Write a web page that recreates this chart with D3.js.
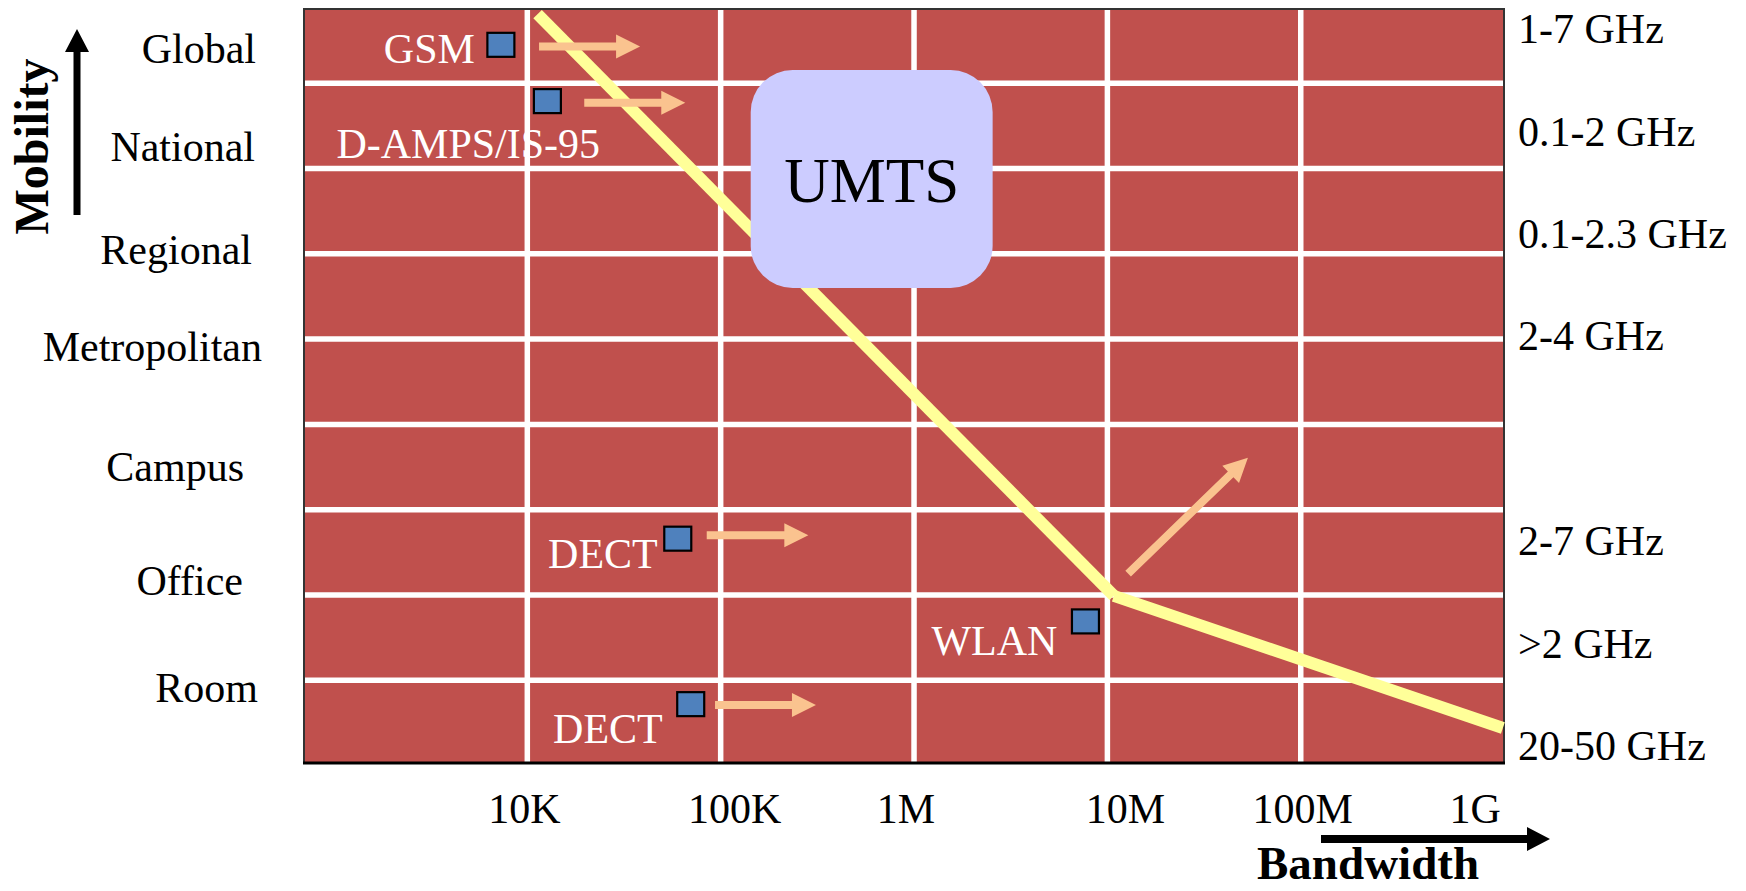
<!DOCTYPE html>
<html>
<head>
<meta charset="utf-8">
<title>Mobility vs. bandwidth of wireless systems</title>
<script src="https://cdn.jsdelivr.net/npm/d3@7"></script>
<style>
  html, body { margin: 0; padding: 0; background: #ffffff; }
  svg { display: block; }
  text { font-family: "Liberation Serif", "Times New Roman", serif; }
</style>
</head>
<body>
<svg id="chart" width="1746" height="891"></svg>
<script>
// ---- data ---------------------------------------------------------------
// bandwidth axis (bit/s, logarithmic)
const bandwidthTicks  = [1e4, 1e5, 1e6, 1e7, 1e8, 1e9];
const bandwidthLabels = ["10K", "100K", "1M", "10M", "100M", "1G"];
const gridBandwidths  = [1e4, 1e5, 1e6, 1e7, 1e8];

// mobility rows (row units, 0 = most mobile at the top)
const rowBoundaries   = [1, 2, 3, 4, 5, 6, 7, 8];
const mobilityClasses = ["Global", "National", "Regional", "Metropolitan", "Campus", "Office", "Room"];
const mobilityRow     = [0.59, 1.74, 2.95, 4.08, 5.49, 6.83, 8.08];

// spectrum used at each mobility level
const frequencyBands  = ["1-7 GHz", "0.1-2 GHz", "0.1-2.3 GHz", "2-4 GHz", "2-7 GHz", ">2 GHz", "20-50 GHz"];
const frequencyRow    = [0.36, 1.56, 2.76, 3.96, 6.36, 7.57, 8.76];

// existing systems
const systems         = ["GSM", "D-AMPS/IS-95", "DECT", "DECT", "WLAN"];
const systemBandwidth = [7.3e3, 1.27e4, 6.0e4, 7.0e4, 7.7e6];
const systemRow       = [0.55, 1.21, 6.34, 8.28, 7.31];

// evolution of each system (arrow start -> end)
const trendFromBandwidth = [1.15e4, 1.97e4, 8.47e4, 9.35e4, 1.28e7];
const trendFromRow       = [0.57, 1.23, 6.30, 8.29, 6.75];
const trendToBandwidth   = [3.83e4, 6.56e4, 2.84e5, 3.11e5, 5.33e7];
const trendToRow         = [0.57, 1.23, 6.30, 8.29, 5.39];

// limit of achievable bandwidth per mobility level
const limitBandwidth = [1.13e4, 1.08e7, 1.11e9];
const limitRow       = [0.19, 7.01, 8.56];

// UMTS coverage
const umtsLabel     = "UMTS";
const umtsBandwidth = [1.43e5, 2.55e6];
const umtsRow       = [0.845, 3.40];

// ---- layout -------------------------------------------------------------
const frame = { left: 304, right: 1504, top: 9, bottom: 763 };
const colors = {
  field: "#C0504D", grid: "#ffffff", limit: "#FFFF99", trend: "#FAC38F",
  system: "#4F81BD", umts: "#CCCCFF", ink: "#000000"
};
const labelSize = 42;
const tickNudge = [-3, 14, -8, 18, 2, -19];
const mobilityNudge = [1, 0, -3, 7, -11, -12, 3];
const systemLabelOffset = [
  { dx: -26, dy: 18, anchor: "end" },
  { dx: -211, dy: 57, anchor: "start" },
  { dx: -20, dy: 29, anchor: "end" },
  { dx: -28, dy: 39, anchor: "end" },
  { dx: -28, dy: 34, anchor: "end" }
];

const svg = d3.select("#chart");

const x = d3.scaleLog().domain([700, 1.125e9]).range([frame.left, frame.right]);
const y = d3.scaleLinear().domain([0.13, 8.97]).range([frame.top, frame.bottom]);

// block arrow outline from (x1,y1) to tip (x2,y2)
function blockArrow(x1, y1, x2, y2, shaft, headLen, headW) {
  const dx = x2 - x1, dy = y2 - y1, len = Math.hypot(dx, dy);
  const ux = dx / len, uy = dy / len, nx = -uy, ny = ux;
  const bx = x2 - ux * headLen, by = y2 - uy * headLen;
  const s = shaft / 2, h = headW / 2;
  const p = d3.path();
  p.moveTo(x1 + nx * s, y1 + ny * s);
  p.lineTo(bx + nx * s, by + ny * s);
  p.lineTo(bx + nx * h, by + ny * h);
  p.lineTo(x2, y2);
  p.lineTo(bx - nx * h, by - ny * h);
  p.lineTo(bx - nx * s, by - ny * s);
  p.lineTo(x1 - nx * s, y1 - ny * s);
  p.closePath();
  return p.toString();
}

// ---- field and grid -----------------------------------------------------
svg.append("rect")
  .attr("x", x.range()[0]).attr("y", y.range()[0])
  .attr("width", x.range()[1] - x.range()[0])
  .attr("height", y.range()[1] - y.range()[0])
  .attr("fill", colors.field);

svg.append("g").selectAll("line").data(gridBandwidths).join("line")
  .attr("x1", d => x(d)).attr("x2", d => x(d))
  .attr("y1", y.range()[0]).attr("y2", y.range()[1])
  .attr("stroke", colors.grid).attr("stroke-width", 5.5);

svg.append("g").selectAll("line").data(rowBoundaries).join("line")
  .attr("x1", x.range()[0]).attr("x2", x.range()[1])
  .attr("y1", d => y(d)).attr("y2", d => y(d))
  .attr("stroke", colors.grid).attr("stroke-width", 5.5);

// frame
const frameG = svg.append("g").attr("fill", "none");
frameG.append("path")
  .attr("d", `M${frame.left},${frame.bottom}V${frame.top}H${frame.right}V${frame.bottom}`)
  .attr("stroke", "#333333").attr("stroke-width", 2);
frameG.append("line")
  .attr("x1", frame.left - 1).attr("x2", frame.right + 1)
  .attr("y1", frame.bottom).attr("y2", frame.bottom)
  .attr("stroke", "#000000").attr("stroke-width", 3);

// ---- bandwidth limit ----------------------------------------------------
const limitPts = limitBandwidth.map((b, i) => [x(b), y(limitRow[i])]);
const lineGen = d3.line();
svg.append("g").selectAll("path").data(d3.pairs(limitPts)).join("path")
  .attr("d", d => lineGen(d))
  .attr("fill", "none")
  .attr("stroke", colors.limit)
  .attr("stroke-width", 12)
  .attr("stroke-linecap", "butt");

// ---- UMTS box -----------------------------------------------------------
const ux0 = x(umtsBandwidth[0]), ux1 = x(umtsBandwidth[1]);
const uy0 = y(umtsRow[0]), uy1 = y(umtsRow[1]);
svg.append("rect")
  .attr("x", ux0).attr("y", uy0)
  .attr("width", ux1 - ux0).attr("height", uy1 - uy0)
  .attr("rx", 42).attr("ry", 42)
  .attr("fill", colors.umts);
svg.append("text")
  .attr("x", (ux0 + ux1) / 2).attr("y", (uy0 + uy1) / 2)
  .attr("dy", "0.37em")
  .attr("text-anchor", "middle")
  .attr("font-size", 63)
  .attr("fill", colors.ink)
  .text(umtsLabel);

// ---- system evolution arrows -------------------------------------------
svg.append("g").selectAll("path").data(systems).join("path")
  .attr("d", (d, i) => blockArrow(
    x(trendFromBandwidth[i]), y(trendFromRow[i]),
    x(trendToBandwidth[i]), y(trendToRow[i]), 8, 24, 24))
  .attr("fill", colors.trend);

// ---- systems ------------------------------------------------------------
const sysG = svg.append("g").selectAll("g").data(systems).join("g")
  .attr("transform", (d, i) => `translate(${x(systemBandwidth[i])},${y(systemRow[i])})`);
sysG.append("rect")
  .attr("x", -13.5).attr("y", -12).attr("width", 27).attr("height", 24)
  .attr("fill", colors.system).attr("stroke", "#000000").attr("stroke-width", 2.2);
sysG.append("text")
  .attr("x", (d, i) => systemLabelOffset[i].dx)
  .attr("y", (d, i) => systemLabelOffset[i].dy)
  .attr("text-anchor", (d, i) => systemLabelOffset[i].anchor)
  .attr("font-size", labelSize)
  .attr("fill", "#ffffff")
  .text(d => d);

// ---- bandwidth tick labels ---------------------------------------------
svg.append("g").selectAll("text").data(bandwidthTicks).join("text")
  .attr("x", (d, i) => x(d) + tickNudge[i])
  .attr("y", frame.bottom + 60)
  .attr("text-anchor", "middle")
  .attr("font-size", labelSize)
  .attr("fill", colors.ink)
  .text((d, i) => bandwidthLabels[i]);

// ---- mobility labels ----------------------------------------------------
svg.append("g").selectAll("text").data(mobilityClasses).join("text")
  .attr("x", (d, i) => frame.left - 49 + mobilityNudge[i])
  .attr("y", (d, i) => y(mobilityRow[i]))
  .attr("dy", "0.35em")
  .attr("text-anchor", "end")
  .attr("font-size", labelSize)
  .attr("fill", colors.ink)
  .text(d => d);

// ---- frequency labels ---------------------------------------------------
svg.append("g").selectAll("text").data(frequencyBands).join("text")
  .attr("x", frame.right + 14)
  .attr("y", (d, i) => y(frequencyRow[i]))
  .attr("dy", "0.35em")
  .attr("text-anchor", "start")
  .attr("font-size", labelSize)
  .attr("fill", colors.ink)
  .text(d => d);

// ---- axis titles and direction arrows ----------------------------------
svg.append("path")
  .attr("d", blockArrow(77, 215, 77, 29, 7, 23, 24))
  .attr("fill", colors.ink);
svg.append("text")
  .attr("transform", "translate(48,146.5) rotate(-90)")
  .attr("text-anchor", "middle")
  .attr("font-size", 48)
  .attr("font-weight", "bold")
  .attr("fill", colors.ink)
  .text("Mobility");

svg.append("path")
  .attr("d", blockArrow(1321, 839, 1550, 839, 8, 23, 24))
  .attr("fill", colors.ink);
svg.append("text")
  .attr("x", 1257).attr("y", 879)
  .attr("text-anchor", "start")
  .attr("font-size", 47)
  .attr("font-weight", "bold")
  .attr("fill", colors.ink)
  .text("Bandwidth");
</script>
</body>
</html>
